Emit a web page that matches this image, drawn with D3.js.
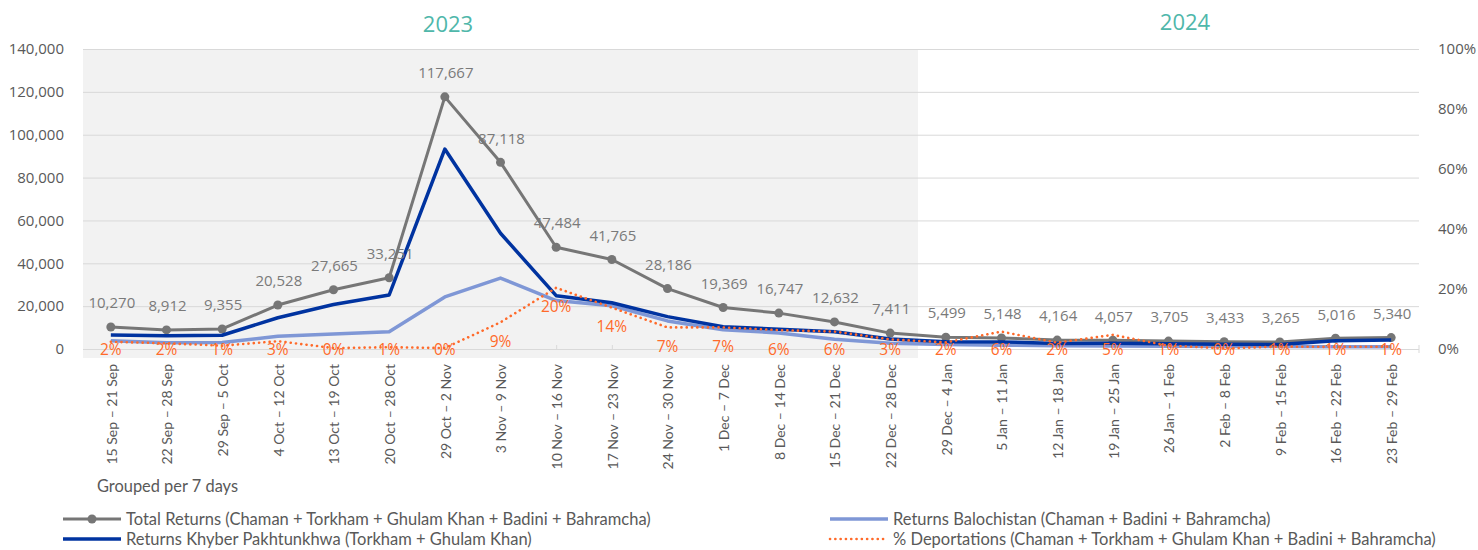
<!DOCTYPE html>
<html>
<head>
<meta charset="utf-8">
<script src="https://cdn.jsdelivr.net/npm/d3@7/dist/d3.min.js"></script>
<style>
  html, body { margin: 0; padding: 0; background: #fff; }
  svg { display: block; }
</style>
</head>
<body>
<svg id="chart" width="1478" height="550"></svg>
<script>
const categories = [
  "15 Sep – 21 Sep", "22 Sep – 28 Sep", "29 Sep – 5 Oct", "4 Oct – 12 Oct",
  "13 Oct – 19 Oct", "20 Oct – 28 Oct", "29 Oct – 2 Nov", "3 Nov – 9 Nov",
  "10 Nov – 16 Nov", "17 Nov – 23 Nov", "24 Nov – 30 Nov", "1 Dec – 7 Dec",
  "8 Dec – 14 Dec", "15 Dec – 21 Dec", "22 Dec – 28 Dec", "29 Dec – 4 Jan",
  "5 Jan – 11 Jan", "12 Jan – 18 Jan", "19 Jan – 25 Jan", "26 Jan – 1 Feb",
  "2 Feb – 8 Feb", "9 Feb – 15 Feb", "16 Feb – 22 Feb", "23 Feb – 29 Feb"
];
const totalReturns = [10270, 8912, 9355, 20528, 27665, 33251, 117667, 87118, 47484, 41765, 28186, 19369,
  16747, 12632, 7411, 5499, 5148, 4164, 4057, 3705, 3433, 3265, 5016, 5340];
const kpReturns = [6500, 6200, 6400, 14600, 20800, 25200, 93300, 54000, 24900, 21600, 15100, 10400,
  9200, 8100, 4700, 3400, 3300, 2600, 2700, 2400, 2200, 2100, 3900, 4200];
const balReturns = [3800, 2900, 3000, 5900, 7000, 8100, 24300, 33100, 22600, 20200, 13100, 9000,
  7500, 4500, 2700, 2100, 1800, 1500, 1350, 1300, 1200, 1150, 1100, 1100];
const pctDeport = [0.024, 0.019, 0.011, 0.026, 0.003, 0.006, 0.003, 0.089, 0.204, 0.138, 0.072, 0.072,
  0.063, 0.058, 0.032, 0.022, 0.058, 0.021, 0.047, 0.011, 0.002, 0.008, 0.007, 0.008];
const leftTicks = [0, 20000, 40000, 60000, 80000, 100000, 120000, 140000];
const rightTicks = [0, 0.2, 0.4, 0.6, 0.8, 1.0];
const years = [{label: "2023", first: 0, last: 14}, {label: "2024", first: 15, last: 23}];
const legendItems = [
  {key: "total", text: "Total Returns (Chaman + Torkham + Ghulam Khan + Badini + Bahramcha)"},
  {key: "kp", text: "Returns Khyber Pakhtunkhwa (Torkham + Ghulam Khan)"},
  {key: "bal", text: "Returns Balochistan (Chaman + Badini + Bahramcha)"},
  {key: "pct", text: "% Deportations (Chaman + Torkham + Ghulam Khan + Badini + Bahramcha)"}
];

const C = {
  total: "#767676", totalLabel: "#7a7a7a", kp: "#0033a0", bal: "#7f97d6",
  pct: "#ff6a2a", axis: "#595959", grid: "#d9d9d9", shade: "#f2f2f2", year: "#4fb7aa"
};
const numFont = "'Open Sans', 'Noto Sans', sans-serif";
const txtFont = "Lato, 'Noto Sans', sans-serif";

const svg = d3.select("#chart");
const pLeft = 83, pRight = 1419, pTop = 49, pBottom = 349;

const x = d3.scaleBand().domain(categories).range([pLeft, pRight]).paddingInner(0).paddingOuter(0);
const cx = d => x(d) + x.bandwidth() / 2;
const yL = d3.scaleLinear().domain([0, 140000]).range([pBottom, pTop]);
const yR = d3.scaleLinear().domain([0, 1]).range([pBottom, pTop]);

// 2023 shading
svg.append("rect")
  .attr("x", x(categories[years[0].first]))
  .attr("y", pTop)
  .attr("width", x(categories[years[0].last]) + x.bandwidth() - x(categories[years[0].first]))
  .attr("height", pBottom - pTop + 9)
  .attr("fill", C.shade);

// gridlines
svg.append("g").selectAll("line").data(leftTicks).join("line")
  .attr("x1", pLeft).attr("x2", pRight)
  .attr("y1", d => yL(d) + 0.5).attr("y2", d => yL(d) + 0.5)
  .attr("stroke", C.grid).attr("stroke-width", 1);

// x tick marks
svg.append("g").selectAll("line").data(categories).join("line")
  .attr("x1", d => cx(d) + 0.5).attr("x2", d => cx(d) + 0.5)
  .attr("y1", pBottom - 4).attr("y2", pBottom)
  .attr("stroke", C.grid);
svg.append("line").attr("x1", pRight).attr("x2", pRight).attr("y1", pBottom - 4).attr("y2", pBottom + 4)
  .attr("stroke", C.grid);

// left axis labels
const fmt = d3.format(",");
svg.append("g").selectAll("text").data(leftTicks).join("text")
  .attr("x", 64).attr("y", d => yL(d)).attr("dy", "0.35em")
  .attr("text-anchor", "end").attr("font-family", numFont).attr("font-size", 15)
  .attr("fill", C.axis).text(d => fmt(d));

// right axis labels
svg.append("g").selectAll("text").data(rightTicks).join("text")
  .attr("x", 1438).attr("y", d => yR(d)).attr("dy", "0.35em")
  .attr("text-anchor", "start").attr("font-family", numFont).attr("font-size", 15)
  .attr("fill", C.axis).text(d => d3.format(".0%")(d));

// x labels rotated
svg.append("g").selectAll("text").data(categories).join("text")
  .attr("transform", d => `translate(${cx(d) + 1},364) rotate(-90)`)
  .attr("dy", "0.35em").attr("text-anchor", "end")
  .attr("font-family", txtFont).attr("font-size", 14)
  .attr("fill", C.axis).text(d => d);

// year labels
svg.append("g").selectAll("text").data(years).join("text")
  .attr("x", (d, i) => i === 0 ? 448 : 1185)
  .attr("y", (d, i) => i === 0 ? 24 : 22).attr("dy", "0.35em")
  .attr("text-anchor", "middle").attr("font-family", numFont).attr("font-size", 22)
  .attr("fill", C.year).text(d => d.label);

// lines
const lineL = vals => d3.line().x((d, i) => cx(categories[i])).y(d => yL(d))(vals);
const lineR = vals => d3.line().x((d, i) => cx(categories[i])).y(d => yR(d))(vals);

svg.append("path").attr("d", lineL(totalReturns)).attr("fill", "none")
  .attr("stroke", C.total).attr("stroke-width", 3).attr("stroke-linejoin", "round");
svg.append("g").selectAll("circle").data(totalReturns).join("circle")
  .attr("cx", (d, i) => cx(categories[i])).attr("cy", d => yL(d)).attr("r", 4.5)
  .attr("fill", C.total);
svg.append("path").attr("d", lineL(balReturns)).attr("fill", "none")
  .attr("stroke", C.bal).attr("stroke-width", 3.5).attr("stroke-linejoin", "round");
svg.append("path").attr("d", lineL(kpReturns)).attr("fill", "none")
  .attr("stroke", C.kp).attr("stroke-width", 3.5).attr("stroke-linejoin", "round");
svg.append("path").attr("d", lineR(pctDeport)).attr("fill", "none")
  .attr("stroke", C.pct).attr("stroke-width", 2.6).attr("stroke-linecap", "round")
  .attr("stroke-dasharray", "0.1 5.2");

// total labels
svg.append("g").selectAll("text").data(totalReturns).join("text")
  .attr("x", (d, i) => cx(categories[i]) + 1).attr("y", d => yL(d) - 24).attr("dy", "0.35em")
  .attr("text-anchor", "middle").attr("font-family", numFont).attr("font-size", 15)
  .attr("fill", C.totalLabel).text(d => fmt(d));

// pct labels
svg.append("g").selectAll("text").data(pctDeport).join("text")
  .attr("x", (d, i) => cx(categories[i])).attr("y", d => Math.min(yR(d) + 19, 350)).attr("dy", "0.35em")
  .attr("text-anchor", "middle").attr("font-family", numFont).attr("font-size", 15.5)
  .attr("fill", C.pct).text(d => d3.format(".0%")(d));

// note
svg.append("text").attr("x", 97).attr("y", 486).attr("dy", "0.35em")
  .attr("font-family", txtFont).attr("font-size", 16.4).attr("fill", C.axis)
  .text("Grouped per 7 days");

// legend
const legPos = {total: [63, 519], kp: [63, 539], bal: [830, 519], pct: [830, 539]};
const lg = svg.append("g");
legendItems.forEach(item => {
  const [lx, ly] = legPos[item.key];
  const ln = lg.append("line").attr("x1", lx).attr("x2", lx + 58).attr("y1", ly).attr("y2", ly);
  if (item.key === "total") {
    ln.attr("stroke", C.total).attr("stroke-width", 3);
    lg.append("circle").attr("cx", lx + 29).attr("cy", ly).attr("r", 4.5).attr("fill", C.total);
  } else if (item.key === "kp") {
    ln.attr("stroke", C.kp).attr("stroke-width", 3.5);
  } else if (item.key === "bal") {
    ln.attr("stroke", C.bal).attr("stroke-width", 3.5);
  } else {
    ln.attr("stroke", C.pct).attr("stroke-width", 2.6).attr("stroke-linecap", "round").attr("stroke-dasharray", "0.1 5.2");
  }
  lg.append("text").attr("x", lx + 63).attr("y", ly).attr("dy", "0.35em")
    .attr("font-family", txtFont).attr("font-size", 16.5).attr("fill", C.axis).text(item.text);
});
</script>
</body>
</html>
